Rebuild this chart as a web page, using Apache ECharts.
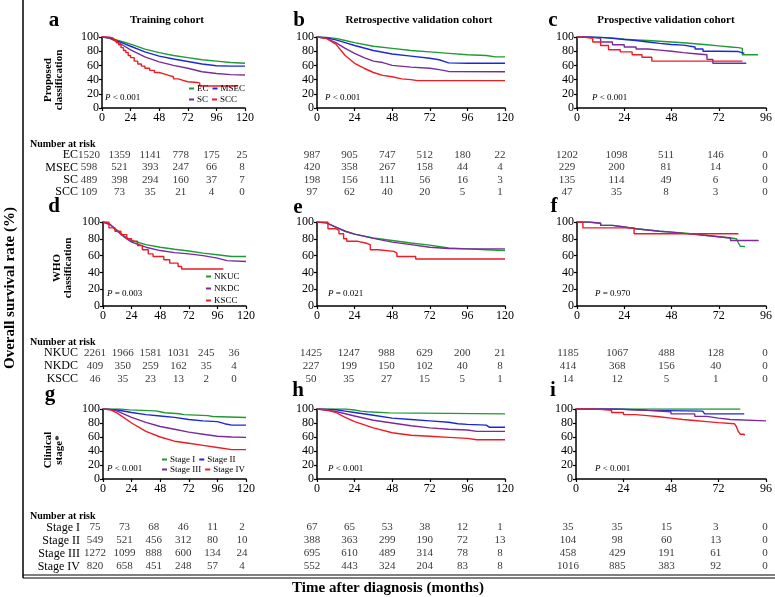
<!DOCTYPE html>
<html>
<head>
<meta charset="utf-8">
<script src="https://cdn.jsdelivr.net/npm/echarts@6/dist/echarts.min.js"></script>
<style>
html,body{margin:0;padding:0;background:#fff;}
#chart{width:775px;height:597px;}
</style>
</head>
<body>
<div id="chart"></div>
<script>
// ---- survival curves [month, %] ----
var aEC   = [[0,100],[6,99],[12,96],[18,93],[24,90],[36,83],[48,78],[60,74],[72,71],[84,68],[96,66],[108,64],[120,63]];
var aMSEC = [[0,100],[6,99],[12,95],[18,91],[24,87],[36,79],[48,73],[60,69],[72,65.5],[84,62],[96,59.5],[108,59],[120,59]];
var aSC   = [[0,100],[6,98.5],[12,94],[18,88],[24,82],[36,72],[48,65],[60,60],[72,56],[84,51],[96,48.5],[108,47],[120,46.5]];
var aSCC  = [[0,100],[6,98],[10,95],[12,92],[14,89],[16,85],[18,81],[20,78],[22,74],[24,71],[27,66],[30,62],[33,59],[36,56],[40,53],[44,50],[48,48],[52,46],[56,44],[60,41],[64,39],[68,37],[72,36],[80,35],[82,31],[114,31]];

var bEC   = [[0,100],[6,99.5],[12,98],[18,95],[24,92],[36,87],[48,84],[60,81],[72,79],[84,77],[96,75],[108,74],[114,72],[120,72]];
var bMSEC = [[0,100],[6,99],[12,96],[18,92],[24,88],[36,81],[48,76],[60,73],[72,70],[78,68],[82,65],[84,63.5],[96,63],[120,63]];
var bSC   = [[0,100],[6,98],[12,92],[18,84],[24,77],[30,71],[36,66],[42,64],[48,60],[60,57.5],[72,56],[78,54],[84,51.5],[120,51]];
var bSCC  = [[0,100],[6,98],[12,90],[18,74],[24,63],[30,56],[36,50],[42,46],[48,44],[54,41],[60,40],[64,38.5],[120,38.5]];

var cEC   = [[0,100],[6,99.5],[12,98.5],[18,97],[24,96],[30,95],[36,94],[42,93],[48,92],[54,90.5],[60,89],[66,87.5],[72,86],[78,85],[82,84],[84,75],[92,75]];
var cMSEC = [[0,100],[6,99.5],[12,98],[18,96.5],[24,95],[30,93],[36,91],[42,89.5],[48,88.5],[54,86],[60,83],[64,80],[72,79.5],[82,79],[83,77],[85,77]];
var cSC   = [[0,100],[6,98],[12,93],[18,89],[24,86],[30,83],[36,81.5],[42,80],[48,78],[54,76.5],[60,75],[66,68.5],[69,63],[86,63]];
var cSCC  = [[0,100],[3,98],[8,93],[12,88],[16,82],[22,79],[28,75],[33,71.5],[38,66],[84,66]];

var dNKUC = [[0,100],[6,97],[12,90],[18,83],[24,78],[36,73],[48,70],[60,67.5],[72,65.5],[84,63],[96,61],[108,59],[120,59]];
var dNKDC = [[0,100],[6,97],[12,89],[18,82],[24,76],[36,70],[48,66],[60,63.5],[72,62],[84,60],[96,57],[104,54],[120,53]];
var dKSCC = [[0,100],[5,93],[10,89],[15,85],[20,80],[24,77],[29,72],[33,67],[38,62],[42,59],[51,55],[56,51],[63,47],[66,44],[101,44]];

var eNKUC = [[0,100],[6,99],[12,94],[18,89],[24,85.5],[36,81],[48,78],[60,75],[72,72.5],[84,69],[96,68],[108,67],[120,66]];
var eNKDC = [[0,100],[6,99],[12,94],[18,89],[24,85.5],[36,80.5],[48,76],[60,73],[72,70],[84,68.5],[96,68],[108,68],[120,68]];
var eKSCC = [[0,100],[7,92],[12,90],[14,86],[17,80],[19,77],[26,75],[31,73],[34,67],[39,65],[49,63],[51,59],[63,56],[120,56]];

var fNKUC = [[0,100],[6,98.5],[12,96],[18,94],[24,92],[30,90.5],[36,89],[42,88],[48,87],[54,85.5],[60,84],[66,82.5],[72,81],[78,80],[81,78],[82,75],[83,71],[85,70]];
var fNKDC = [[0,100],[6,98.5],[12,96],[18,94],[24,92],[30,90.5],[36,89],[42,88],[48,86.5],[54,85.5],[60,84],[66,82.5],[72,81],[78,78],[92,77]];
var fKSCC = [[0,100],[3,93],[29,86],[82,86]];

var gI    = [[0,100],[14,98.7],[22,97.3],[44,96],[48,94.6],[52,93.3],[64,92],[68,90.6],[88,89.2],[92,87.8],[120,87.8]];
var gII   = [[0,100],[12,98.5],[24,95],[36,92],[48,90],[60,88],[72,85],[84,83],[96,82],[102,79],[108,77],[120,77]];
var gIII  = [[0,100],[6,99.5],[12,97],[24,88],[36,81],[48,75],[60,71],[72,67],[84,64],[96,61],[108,60],[120,59.5]];
var gIV   = [[0,100],[6,99],[12,94],[24,80],[36,68],[48,60],[60,54],[72,51],[84,48],[96,45],[108,42],[120,42]];

var hI    = [[0,100],[18,98.5],[24,97],[28,96],[32,94.5],[46,93],[120,93]];
var hII   = [[0,100],[12,99],[18,97],[24,95],[36,91],[48,87],[60,85],[72,83],[84,81],[90,79],[96,78],[108,77],[110,74],[120,74]];
var hIII  = [[0,100],[12,96.5],[24,90],[36,84],[48,80],[60,76],[72,73],[84,71],[96,70],[102,68],[120,68]];
var hIV   = [[0,100],[6,99],[12,95],[18,88],[24,82],[36,73],[48,66],[60,62.5],[72,61],[84,59.5],[96,58],[102,56],[120,56]];

var iI    = [[0,100],[83,100]];
var iII   = [[0,100],[20,99],[30,98],[36,97],[64,96],[65,93],[85,93]];
var iIII  = [[0,100],[12,99.5],[24,98],[36,96],[48,93],[60,89.5],[66,87],[72,85],[78,83],[96,83]];
var iIV   = [[0,100],[6,99.5],[12,98],[18,95],[24,92],[30,90.5],[36,89],[42,87],[48,85],[54,83.5],[60,82],[66,80.5],[72,79],[80,78],[81,75],[82,68],[83,64],[85,62]];

// ---- number at risk ----
var groupsProposed = ['EC','MSEC','SC','SCC'];
var groupsWHO = ['NKUC','NKDC','KSCC'];
var groupsStage = ['Stage I','Stage II','Stage III','Stage IV'];

var riskA = [[1520,1359,1141,778,175,25],[598,521,393,247,66,8],[489,398,294,160,37,7],[109,73,35,21,4,0]];
var riskB = [[987,905,747,512,180,22],[420,358,267,158,44,4],[198,156,111,56,16,3],[97,62,40,20,5,1]];
var riskC = [[1202,1098,511,146,0],[229,200,81,14,0],[135,114,49,6,0],[47,35,8,3,0]];
var riskD = [[2261,1966,1581,1031,245,36],[409,350,259,162,35,4],[46,35,23,13,2,0]];
var riskE = [[1425,1247,988,629,200,21],[227,199,150,102,40,8],[50,35,27,15,5,1]];
var riskF = [[1185,1067,488,128,0],[414,368,156,40,0],[14,12,5,1,0]];
var riskG = [[75,73,68,46,11,2],[549,521,456,312,80,10],[1272,1099,888,600,134,24],[820,658,451,248,57,4]];
var riskH = [[67,65,53,38,12,1],[388,363,299,190,72,13],[695,610,489,314,78,8],[552,443,324,204,83,8]];
var riskI = [[35,35,15,3,0],[104,98,60,13,0],[458,429,191,61,0],[1016,885,383,92,0]];

var pValues = ['< 0.001','< 0.001','< 0.001','= 0.003','= 0.021','= 0.970','< 0.001','< 0.001','< 0.001'];

var SERIF = 'Liberation Serif';
var GREEN = '#1f9b30', BLUE = '#1a28d8', PURPLE = '#7a2a9c', RED = '#ec1c24';

// panel layout
var panels = [
  {g:{left:102,top:37,width:143,height:71}, max:120, names:groupsProposed, cols:[GREEN,BLUE,PURPLE,RED], lines:[aEC,aMSEC,aSC,aSCC], step:[0,0,0,1]},
  {g:{left:317,top:37,width:188,height:71}, max:120, names:groupsProposed, cols:[GREEN,BLUE,PURPLE,RED], lines:[bEC,bMSEC,bSC,bSCC], step:[0,0,0,0]},
  {g:{left:577,top:37,width:189,height:71}, max:96, names:groupsProposed, cols:[GREEN,BLUE,PURPLE,RED], lines:[cEC,cMSEC,cSC,cSCC], step:[1,1,1,1]},
  {g:{left:103,top:222,width:143,height:84}, max:120, names:groupsWHO, cols:[GREEN,PURPLE,RED], lines:[dNKUC,dNKDC,dKSCC], step:[0,0,1]},
  {g:{left:317,top:222,width:188,height:84}, max:120, names:groupsWHO, cols:[GREEN,PURPLE,RED], lines:[eNKUC,eNKDC,eKSCC], step:[0,0,1]},
  {g:{left:577,top:222,width:189,height:84}, max:96, names:groupsWHO, cols:[GREEN,PURPLE,RED], lines:[fNKUC,fNKDC,fKSCC], step:[1,1,1]},
  {g:{left:103,top:409,width:143,height:70}, max:120, names:groupsStage, cols:[GREEN,BLUE,PURPLE,RED], lines:[gI,gII,gIII,gIV], step:[1,0,0,0]},
  {g:{left:317,top:409,width:188,height:70}, max:120, names:groupsStage, cols:[GREEN,BLUE,PURPLE,RED], lines:[hI,hII,hIII,hIV], step:[1,0,0,0]},
  {g:{left:576,top:409,width:190,height:70}, max:96, names:groupsStage, cols:[GREEN,BLUE,PURPLE,RED], lines:[iI,iII,iIII,iIV], step:[1,1,1,1]}
];

// number-at-risk tables: first / last column centre, top and height of the rows block
var tables = [
  {x0:89,x1:242,top:149,h:49, rows:riskA, names:groupsProposed, lab:true, margin:11},
  {x0:312,x1:500,top:149,h:49, rows:riskB, names:groupsProposed},
  {x0:567,x1:765,top:149,h:49, rows:riskC, names:groupsProposed},
  {x0:95,x1:234,top:347,h:38, rows:riskD, names:groupsWHO, lab:true, margin:17},
  {x0:311,x1:500,top:347,h:38, rows:riskE, names:groupsWHO},
  {x0:568,x1:765,top:347,h:38, rows:riskF, names:groupsWHO},
  {x0:95,x1:242,top:521,h:52, rows:riskG, names:groupsStage, lab:true, margin:15},
  {x0:312,x1:500,top:521,h:52, rows:riskH, names:groupsStage},
  {x0:568,x1:765,top:521,h:52, rows:riskI, names:groupsStage}
];

var grids = [], xAxes = [], yAxes = [], series = [];

panels.forEach(function(p, k){
  grids.push(p.g);
  xAxes.push({
    type:'value', gridIndex:k, min:0, max:p.max, interval:24,
    axisLine:{show:true, onZero:false, lineStyle:{color:'#000', width:1.5}},
    axisTick:{show:true, length:3, lineStyle:{color:'#000', width:1.2}},
    axisLabel:{color:'#000', fontFamily:SERIF, fontSize:12, margin:4},
    splitLine:{show:false}
  });
  yAxes.push({
    type:'value', gridIndex:k, min:0, max:100, interval:20,
    axisLine:{show:true, lineStyle:{color:'#000', width:1.5}},
    axisTick:{show:true, length:3, lineStyle:{color:'#000', width:1.2}},
    axisLabel:{color:'#000', fontFamily:SERIF, fontSize:12, margin:3},
    splitLine:{show:false}
  });
  p.lines.forEach(function(d, j){
    series.push({
      type:'line', name:p.names[j], xAxisIndex:k, yAxisIndex:k, data:d,
      step: p.step[j] ? 'end' : false,
      showSymbol:false, symbol:'none', silent:true,
      lineStyle:{color:p.cols[j], width:1.4},
      itemStyle:{color:p.cols[j]}
    });
  });
});

tables.forEach(function(t, k){
  var gi = panels.length + k;
  var ncol = t.rows[0].length;
  grids.push({left:t.x0, top:t.top, width:t.x1 - t.x0, height:t.h});
  xAxes.push({type:'value', gridIndex:gi, min:0, max:ncol - 1, show:false});
  yAxes.push({
    type:'category', gridIndex:gi, data:t.names, inverse:true,
    axisLine:{show:false}, axisTick:{show:false}, splitLine:{show:false},
    axisLabel:{show:!!t.lab, interval:0, margin:t.margin || 8, color:'#000', fontFamily:SERIF, fontSize:12}
  });
  var pts = [];
  t.rows.forEach(function(row, r){
    row.forEach(function(v, c){ pts.push([c, r, v]); });
  });
  series.push({
    type:'scatter', xAxisIndex:gi, yAxisIndex:gi, data:pts, symbolSize:1, silent:true,
    itemStyle:{color:'rgba(0,0,0,0)'},
    label:{show:true, position:'inside', color:'#000', fontFamily:SERIF, fontSize:11,
      formatter:function(q){ return q.value[2]; }}
  });
});

function txt(x, y, s, font, align, rot, extra){
  var o = {type:'text', x:x, y:y, rotation:rot || 0, silent:true,
    style:{text:s, font:font, fill:'#000', textAlign:align || 'left', textVerticalAlign:'middle'}};
  if (extra) for (var key in extra) o.style[key] = extra[key];
  return o;
}

var graphics = [];
// frame
graphics.push({type:'line', shape:{x1:23, y1:0, x2:23, y2:578}, style:{stroke:'#000', lineWidth:1.5}});
graphics.push({type:'line', shape:{x1:23, y1:575, x2:775, y2:575}, style:{stroke:'#000', lineWidth:1}});
graphics.push({type:'line', shape:{x1:23, y1:578, x2:775, y2:578}, style:{stroke:'#000', lineWidth:1}});

// panel letters
var letters = [['a',54,21],['b',299,21],['c',553,21],['d',54,207],['e',298,208],['f',554,207],['g',50,395],['h',298,391],['i',553,391]];
letters.forEach(function(l){ graphics.push(txt(l[1], l[2], l[0], 'bold 21px ' + SERIF, 'center')); });

// column titles
graphics.push(txt(167, 20, 'Training cohort', 'bold 11px ' + SERIF, 'center'));
graphics.push(txt(419, 20, 'Retrospective validation cohort', 'bold 11px ' + SERIF, 'center'));
graphics.push(txt(666, 20, 'Prospective validation cohort', 'bold 11px ' + SERIF, 'center'));

// row titles
graphics.push(txt(54, 80, 'Proposed\nclassification', 'bold 11px ' + SERIF, 'center', Math.PI / 2, {lineHeight:11}));
graphics.push(txt(63, 268, 'WHO\nclassification', 'bold 11px ' + SERIF, 'center', Math.PI / 2, {lineHeight:11}));
graphics.push(txt(54, 450, 'Clinical\nstage*', 'bold 11px ' + SERIF, 'center', Math.PI / 2, {lineHeight:11}));

// axis titles
graphics.push(txt(10, 288, 'Overall survival rate (%)', 'bold 15px ' + SERIF, 'center', Math.PI / 2));
graphics.push(txt(388, 588, 'Time after diagnosis (months)', 'bold 15px ' + SERIF, 'center'));

// number at risk headings
[144, 342, 516].forEach(function(y){ graphics.push(txt(30, y, 'Number at risk', 'bold 10px ' + SERIF, 'left')); });

// p values
var pPos = [[105,98],[325,98],[592,98],[107,294],[328,294],[595,294],[107,469],[328,469],[595,469]];
pPos.forEach(function(pp, k){
  graphics.push(txt(pp[0], pp[1], '{i|P} ' + pValues[k], '9px ' + SERIF, 'left', 0,
    {rich:{i:{fontStyle:'italic', fontFamily:SERIF, fontSize:9}}}));
});

var legendBase = {icon:'rect', itemWidth:5, itemHeight:2, itemGap:4, padding:0, selectedMode:false,
  textStyle:{color:'#000', fontFamily:SERIF, fontSize:9, padding:[0,0,0,-2]}};
function leg(extra){ var o = {}; for (var a in legendBase) o[a] = legendBase[a]; for (var b in extra) o[b] = extra[b]; return o; }

var chart = echarts.init(document.getElementById('chart'));
chart.setOption({
  backgroundColor:'#fff',
  animation:false,
  grid:grids,
  xAxis:xAxes,
  yAxis:yAxes,
  legend:[
    leg({data:['EC','MSEC'], left:189, top:84}),
    leg({data:['SC','SCC'], left:189, top:95}),
    leg({data:groupsWHO, orient:'vertical', left:206, top:272, itemGap:3}),
    leg({data:['Stage I','Stage II'], left:162, top:455}),
    leg({data:['Stage III','Stage IV'], left:162, top:465})
  ],
  series:series,
  graphic:graphics
});
</script>
</body>
</html>
